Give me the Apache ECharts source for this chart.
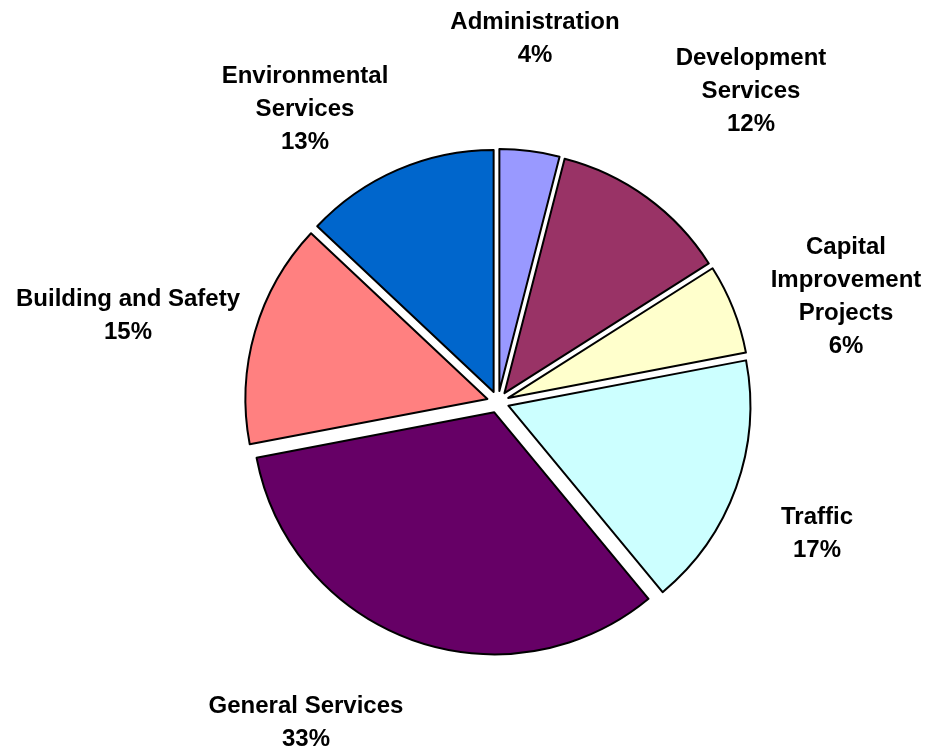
<!DOCTYPE html>
<html>
<head>
<meta charset="utf-8">
<script src="https://cdn.jsdelivr.net/npm/echarts@6/dist/echarts.min.js"></script>
<style>
  html, body { margin: 0; padding: 0; background: #ffffff; }
  #chart { width: 930px; height: 750px; }
</style>
</head>
<body>
<div id="chart"></div>
<script>
// Data
const categories = [
  'Administration',
  'Development\nServices',
  'Capital\nImprovement\nProjects',
  'Traffic',
  'General Services',
  'Building and Safety',
  'Environmental\nServices'
];
const values = [4, 12, 6, 17, 33, 15, 13];
const colors = ['#9999FF', '#993366', '#FFFFCC', '#CCFFFF', '#660066', '#FF8080', '#0066CC'];

// Label placement (offsets of label block centre from pie centre)
const pieCenter = [498, 402];
const labelOffsets = [
  [37, -363],
  [253, -311],
  [348, -105],
  [319, 132],
  [-192, 321],
  [-370, -86],
  [-193, -293]
];

const chart = echarts.init(document.getElementById('chart'), null, { renderer: 'canvas' });

const baseData = categories.map((name, i) => ({ name: name, value: values[i] }));

chart.setOption({
  backgroundColor: '#ffffff',
  animation: false,
  series: [{
    // exploded slices
    type: 'pie',
    center: pieCenter,
    radius: 242,
    startAngle: 90,
    clockwise: true,
    avoidLabelOverlap: false,
    selectedMode: 'multiple',
    selectedOffset: 11,
    itemStyle: { borderColor: '#000000', borderWidth: 2 },
    emphasis: { disabled: true, scale: false },
    select: { itemStyle: { borderColor: '#000000', borderWidth: 2 } },
    label: { show: false },
    labelLine: { show: false },
    data: baseData.map((d, i) => ({
      name: d.name,
      value: d.value,
      selected: true,
      itemStyle: { color: colors[i] }
    }))
  }, {
    // labels only (transparent sectors)
    type: 'pie',
    center: pieCenter,
    radius: 242,
    startAngle: 90,
    clockwise: true,
    silent: true,
    avoidLabelOverlap: false,
    z: 1,
    itemStyle: { color: 'rgba(0,0,0,0)', borderWidth: 0 },
    emphasis: { disabled: true, scale: false },
    label: {
      show: true,
      position: 'outside',
      formatter: '{b}\n{d}%',
      fontFamily: '"Liberation Sans", Arial, sans-serif',
      fontWeight: 'bold',
      fontSize: 24,
      lineHeight: 33,
      color: '#000000',
      align: 'center'
    },
    labelLine: { show: false },
    labelLayout: function (params) {
      const o = labelOffsets[params.dataIndex];
      return {
        x: pieCenter[0] + o[0],
        y: pieCenter[1] + o[1],
        align: 'center',
        verticalAlign: 'middle'
      };
    },
    data: baseData
  }]
});
</script>
</body>
</html>
